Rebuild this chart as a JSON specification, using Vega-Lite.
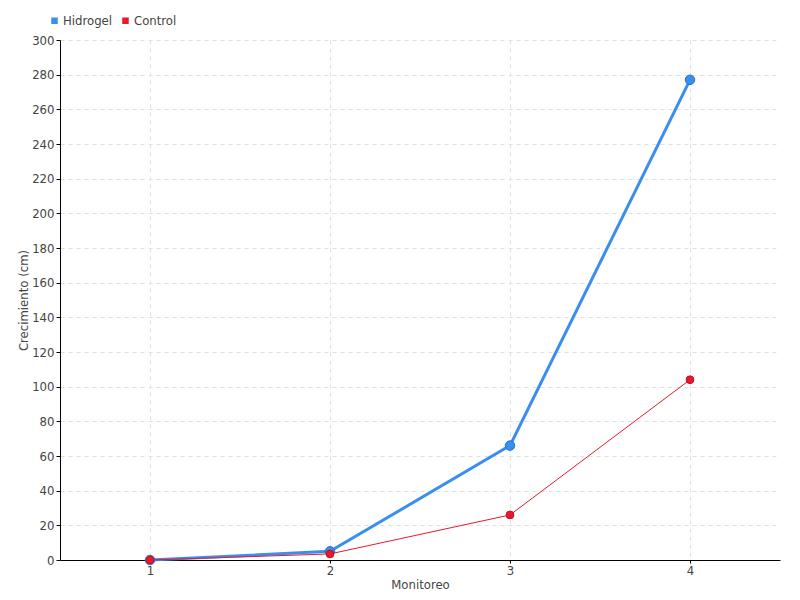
{
  "$schema": "https://vega.github.io/schema/vega-lite/v6.json",
  "width": 720,
  "height": 520,
  "autosize": {"type": "none"},
  "padding": {"left": 60, "top": 40, "right": 20, "bottom": 40},
  "background": "white",
  "config": {
    "font": "DejaVu Sans Condensed",
    "view": {"stroke": null},
    "axis": {
      "labelFont": "DejaVu Sans Condensed",
      "titleFont": "DejaVu Sans Condensed",
      "labelColor": "#444",
      "titleColor": "#444",
      "labelFontSize": 13,
      "titleFontSize": 13,
      "titleFontWeight": "normal",
      "domainColor": "black",
      "tickColor": "black",
      "gridColor": "#e0e0e0",
      "gridDash": [4, 4]
    },
    "legend": {"labelFont": "DejaVu Sans Condensed"}
  },
  "data": {
    "values": [
      {"m": 1, "serie": "Hidrogel", "v": 0},
      {"m": 2, "serie": "Hidrogel", "v": 5},
      {"m": 3, "serie": "Hidrogel", "v": 66},
      {"m": 4, "serie": "Hidrogel", "v": 277},
      {"m": 1, "serie": "Control", "v": 0},
      {"m": 2, "serie": "Control", "v": 3.5},
      {"m": 3, "serie": "Control", "v": 26},
      {"m": 4, "serie": "Control", "v": 104}
    ]
  },
  "encoding": {
    "x": {
      "field": "m", "type": "quantitative",
      "scale": {"domain": [0.5, 4.5], "nice": false, "zero": false},
      "axis": {"values": [1, 2, 3, 4], "title": "Monitoreo", "titlePadding": 1, "tickSize": 3, "labelPadding": 1}
    },
    "y": {
      "field": "v", "type": "quantitative",
      "scale": {"domain": [0, 300], "nice": false},
      "axis": {"values": [0,20,40,60,80,100,120,140,160,180,200,220,240,260,280,300], "title": "Crecimiento (cm)", "tickSize": 4, "titlePadding": 1, "labelPadding": 2}
    },
    "color": {
      "field": "serie", "type": "nominal",
      "scale": {"domain": ["Hidrogel", "Control"], "range": ["#3a8ef0", "#e8192c"]},
      "legend": {
        "title": null, "orient": "none", "legendX": -12, "legendY": -26,
        "direction": "horizontal", "symbolType": "square", "symbolSize": 25,
        "labelFontSize": 13, "labelColor": "#444", "columnPadding": 6, "symbolOffset": 0, "labelOffset": 2
      }
    }
  },
  "layer": [
    {
      "mark": {"type": "line"},
      "encoding": {
        "strokeWidth": {"condition": {"test": "datum.serie === 'Hidrogel'", "value": 3}, "value": 1}
      }
    },
    {
      "mark": {"type": "point", "filled": true, "opacity": 1},
      "encoding": {
        "size": {"condition": {"test": "datum.serie === 'Hidrogel'", "value": 90}, "value": 60},
        "stroke": {"condition": {"test": "datum.serie === 'Hidrogel'", "value": "#2a6fc4"}, "value": "#c4101f"},
        "strokeWidth": {"value": 1}
      }
    }
  ]
}
